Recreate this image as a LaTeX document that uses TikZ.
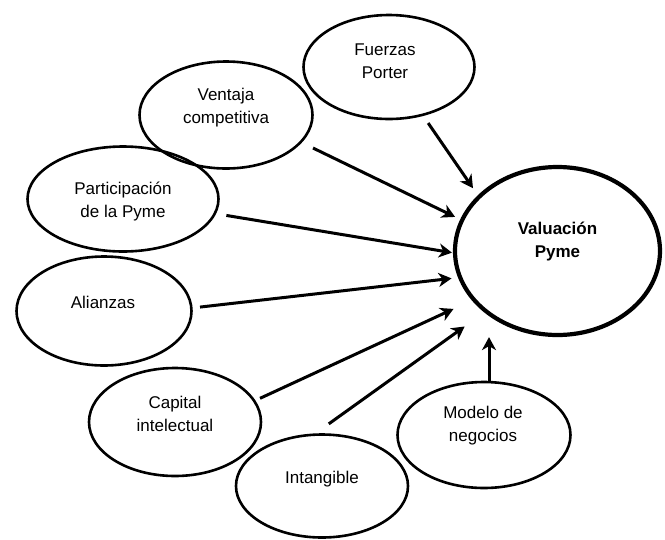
\documentclass[tikz,border=0pt]{standalone}
\usepackage{fontspec}
\setmainfont{Liberation Sans}
\usetikzlibrary{arrows.meta,positioning,shapes.geometric}

\begin{document}
\begin{tikzpicture}[x=1pt, y=-1pt, font=\fontsize{17}{23}\selectfont,
  oval/.style={draw, ellipse, line width=2.6pt, inner sep=0pt},
  txt/.style={align=center, inner sep=0pt},
  arr/.style={-{Stealth[length=13pt, width=14pt, inset=4pt]}, line width=3pt}]
  \useasboundingbox (0,0) rectangle (665,539);

  \node[oval, line width=4.2pt, minimum width=205pt, minimum height=168pt] (vp) at (557.5,251) {};
  \node[oval, minimum width=171pt, minimum height=104pt] (fp) at (389,67) {};
  \node[oval, minimum width=173pt, minimum height=107pt] (vc) at (226,115) {};
  \node[oval, minimum width=191pt, minimum height=105pt] (pp) at (123,199) {};
  \node[oval, minimum width=175pt, minimum height=109pt] (al) at (104,311) {};
  \node[oval, minimum width=172pt, minimum height=108pt] (ci) at (175,422) {};
  \node[oval, minimum width=172pt, minimum height=103pt] (in) at (322,486) {};
  \node[oval, minimum width=173pt, minimum height=106pt] (mn) at (484,435) {};

  \node[txt, font=\fontsize{17}{23}\selectfont\bfseries] (vp-t) at ([yshift=9.5pt]vp) {Valuación\\Pyme};
  \node[txt] (fp-t) at ([xshift=-4pt, yshift=5.5pt]fp) {Fuerzas\\Porter};
  \node[txt] (vc-t) at ([yshift=7.5pt]vc) {Ventaja\\competitiva};
  \node[txt] (pp-t) at ([yshift=-2.5pt]pp) {Participación\\de la Pyme};
  \node[txt] (al-t) at ([xshift=-1pt, yshift=9pt]al) {Alianzas};
  \node[txt] (ci-t) at ([yshift=8pt]ci) {Capital\\intelectual};
  \node[txt] (in-t) at ([yshift=7pt]in) {Intangible};
  \node[txt] (mn-t) at ([xshift=-1pt, yshift=9pt]mn) {Modelo de\\negocios};

  \draw[arr, shorten <=8.6pt, shorten >=8.5pt] (fp.-55) -- (vp.145);
  \draw[arr, shorten <=12.4pt, shorten >=5.7pt] (vc.-20) -- (vp.162);
  \draw[arr, shorten <=10.4pt, shorten >=1pt] (pp.-9.4) -- (vp.181);
  \draw[arr, shorten <=7.4pt, shorten >=6.5pt] (al.2) -- (vp.195);
  \draw[arr, shorten <=5.1pt, shorten >=20.2pt] (ci.15) -- (vp.210.5);
  \draw[arr, shorten <=16.3pt, shorten >=24.1pt] (in.97) -- (vp.220);
  \draw[arr] ([xshift=5pt]mn.north) -- ([xshift=5pt]mn.north |- vp.south);
\end{tikzpicture}
\end{document}
